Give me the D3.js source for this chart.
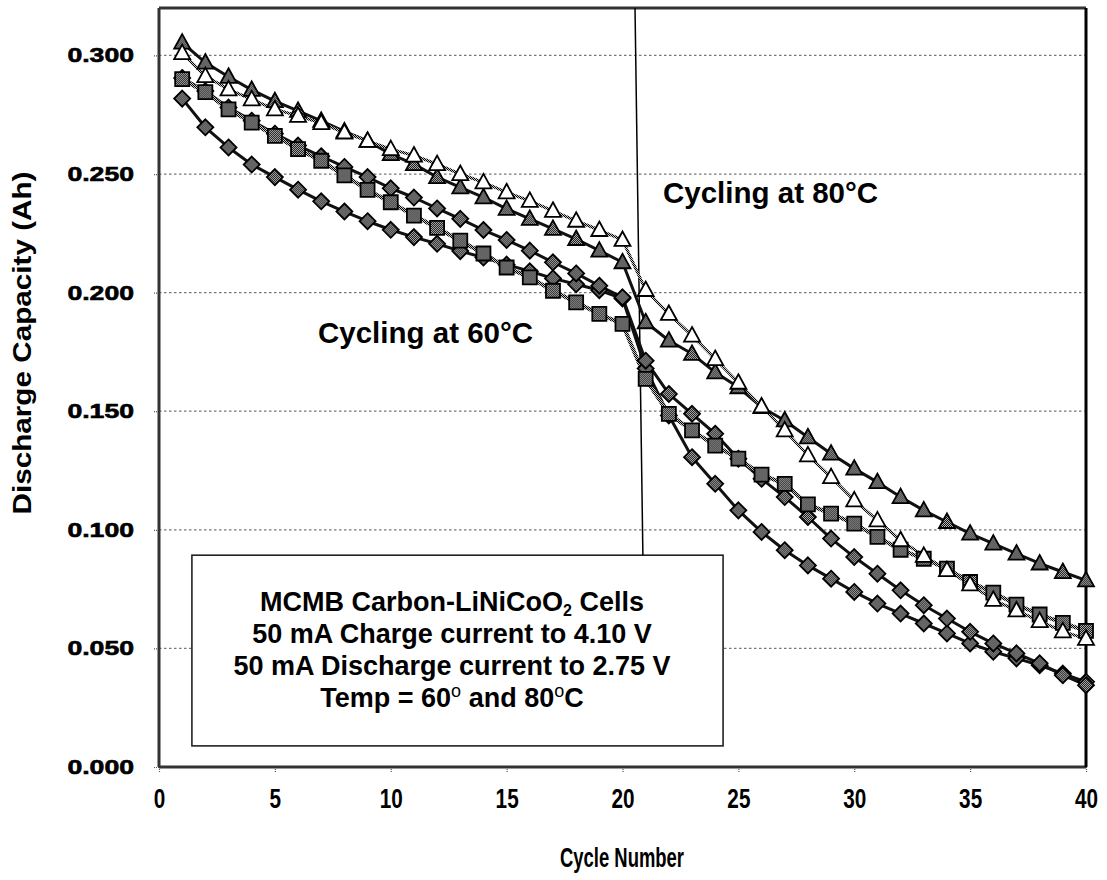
<!DOCTYPE html>
<html>
<head>
<meta charset="utf-8">
<script src="https://d3js.org/d3.v7.min.js"></script>
<style>
  body { margin: 0; background: #fff; }
  text { font-family: "Liberation Sans", Arial, sans-serif; font-weight: bold; fill: #000; }
</style>
</head>
<body>
<svg></svg>
<script>
// cycle numbers and discharge capacity (Ah)
const cycles = [1, 2, 3, 4, 5, 6, 7, 8, 9, 10, 11, 12, 13, 14, 15, 16, 17, 18, 19, 20,
    21, 22, 23, 24, 25, 26, 27, 28, 29, 30, 31, 32, 33, 34, 35, 36, 37, 38, 39, 40];

const openTriangle = [0.3010, 0.2913, 0.2857, 0.2815, 0.2773, 0.2745, 0.2715, 0.2675, 0.2640, 0.2605,
    0.2578, 0.2542, 0.2500, 0.2465, 0.2423, 0.2387, 0.2345, 0.2303, 0.2264, 0.2222,
    0.2011, 0.1910, 0.1819, 0.1720, 0.1620, 0.1520, 0.1419, 0.1314, 0.1222, 0.1124,
    0.1040, 0.0956, 0.0890, 0.0830, 0.0770, 0.0705, 0.0660, 0.0615, 0.0572, 0.0540];

const filledTriangle = [0.3054, 0.2970, 0.2910, 0.2855, 0.2807, 0.2766, 0.2724, 0.2680, 0.2640, 0.2584,
    0.2542, 0.2487, 0.2444, 0.2402, 0.2353, 0.2311, 0.2269, 0.2226, 0.2177, 0.2128,
    0.1875, 0.1798, 0.1742, 0.1664, 0.1601, 0.1517, 0.1461, 0.1390, 0.1321, 0.1258,
    0.1201, 0.1138, 0.1082, 0.1033, 0.0984, 0.0942, 0.0900, 0.0858, 0.0822, 0.0787];

const squares = [0.2900, 0.2845, 0.2773, 0.2717, 0.2661, 0.2605, 0.2556, 0.2494, 0.2433, 0.2381,
    0.2325, 0.2273, 0.2219, 0.2165, 0.2106, 0.2064, 0.2008, 0.1959, 0.1910, 0.1868,
    0.1636, 0.1489, 0.1419, 0.1355, 0.1300, 0.1233, 0.1194, 0.1107, 0.1068, 0.1026,
    0.0970, 0.0916, 0.0878, 0.0836, 0.0780, 0.0735, 0.0685, 0.0643, 0.0608, 0.0574];

const diamondUpper = [0.2905, 0.2850, 0.2780, 0.2725, 0.2670, 0.2620, 0.2575, 0.2530, 0.2487, 0.2440,
    0.2401, 0.2355, 0.2311, 0.2264, 0.2222, 0.2177, 0.2128, 0.2081, 0.2029, 0.1980,
    0.1713, 0.1573, 0.1489, 0.1405, 0.1300, 0.1215, 0.1138, 0.1054, 0.0963, 0.0885,
    0.0815, 0.0745, 0.0682, 0.0626, 0.0570, 0.0521, 0.0479, 0.0437, 0.0387, 0.0345];

const diamondLower = [0.2818, 0.2697, 0.2612, 0.2540, 0.2487, 0.2434, 0.2385, 0.2342, 0.2301, 0.2265,
    0.2234, 0.2206, 0.2175, 0.2148, 0.2118, 0.2090, 0.2060, 0.2035, 0.2010, 0.1975,
    0.1680, 0.1482, 0.1306, 0.1194, 0.1082, 0.0991, 0.0914, 0.0850, 0.0794, 0.0738,
    0.0689, 0.0647, 0.0605, 0.0563, 0.0521, 0.0486, 0.0458, 0.0429, 0.0394, 0.0359];

const yTicks = [0, 0.05, 0.10, 0.15, 0.20, 0.25, 0.30];
const xTicks = [0, 5, 10, 15, 20, 25, 30, 35, 40];
const boxLines = ['50 mA Charge current to 4.10 V', '50 mA Discharge current to 2.75 V'];

const width = 1107;
const height = 880;
const margin = {top: 8, right: 21, bottom: 113, left: 159};

const svg = d3.select('svg')
    .attr('width', width)
    .attr('height', height);

// checkered fill like the scanned markers
const defs = svg.append('defs');
const chk = defs.append('pattern')
    .attr('id', 'chk')
    .attr('width', 2).attr('height', 2)
    .attr('patternUnits', 'userSpaceOnUse');
chk.append('rect').attr('width', 2).attr('height', 2).attr('fill', '#c8c8c8');
chk.append('rect').attr('width', 1).attr('height', 1).attr('fill', '#000');
chk.append('rect').attr('x', 1).attr('y', 1).attr('width', 1).attr('height', 1).attr('fill', '#000');

const x = d3.scaleLinear().domain([0, 40]).range([margin.left, width - margin.right]);
const y = d3.scaleLinear().domain([0, 0.32]).range([height - margin.bottom, margin.top]);

// grid
svg.append('g')
    .selectAll('line')
    .data(yTicks.filter(d => d > 0))
    .enter()
    .append('line')
    .attr('x1', x(0)).attr('x2', x(40))
    .attr('y1', d => y(d)).attr('y2', d => y(d))
    .attr('stroke', '#777')
    .attr('stroke-width', 1.2)
    .attr('stroke-dasharray', '2.5,2.5');

// axes
const yAxis = d3.axisLeft(y).tickValues(yTicks).tickFormat(d3.format('.3f')).tickSize(6).tickPadding(19);
const gy = svg.append('g')
    .attr('transform', 'translate(' + x(0) + ',0)')
    .call(yAxis);
gy.select('.domain').remove();
gy.selectAll('.tick line').attr('stroke', '#555').attr('stroke-width', 1.2).attr('stroke-dasharray', '1,1');
gy.selectAll('.tick text')
    .style('font-size', '20px')
    .attr('font-family', null)
    .attr('stroke', '#000')
    .attr('stroke-width', 0.6)
    .each(function () {
        const w = this.getComputedTextLength();
        d3.select(this).attr('textLength', w * 1.33).attr('lengthAdjust', 'spacingAndGlyphs');
    });

const xAxis = d3.axisBottom(x).tickValues(xTicks).tickFormat(d3.format('d')).tickSize(5).tickPadding(16);
const gx = svg.append('g')
    .attr('transform', 'translate(0,' + y(0) + ')')
    .call(xAxis);
gx.select('.domain').remove();
gx.selectAll('.tick line').attr('stroke', '#555').attr('stroke-width', 1.2).attr('stroke-dasharray', '1,1');
gx.selectAll('.tick text')
    .style('font-size', '28px')
    .attr('font-family', null)
    .each(function () {
        const w = this.getComputedTextLength();
        d3.select(this).attr('textLength', w * 0.74).attr('lengthAdjust', 'spacingAndGlyphs');
    });

// frame
const frame = svg.append('g').attr('fill', 'none');
frame.append('line').attr('x1', x(0)).attr('x2', x(40)).attr('y1', y(0.32)).attr('y2', y(0.32))
    .attr('stroke', '#333').attr('stroke-width', 3);
frame.append('line').attr('x1', x(0)).attr('x2', x(40)).attr('y1', y(0)).attr('y2', y(0))
    .attr('stroke', '#333').attr('stroke-width', 3);
frame.append('line').attr('x1', x(0)).attr('x2', x(0)).attr('y1', y(0)).attr('y2', y(0.32))
    .attr('stroke', '#333').attr('stroke-width', 3);
frame.append('line').attr('x1', x(40)).attr('x2', x(40)).attr('y1', y(0)).attr('y2', y(0.32))
    .attr('stroke', '#000').attr('stroke-width', 3);

// annotation box
const boxLeft = 1.42, boxRight = 24.34, boxTop = 0.0893, boxBottom = 0.0089;
svg.append('rect')
    .attr('x', x(boxLeft)).attr('y', y(boxTop))
    .attr('width', x(boxRight) - x(boxLeft))
    .attr('height', y(boxBottom) - y(boxTop))
    .attr('fill', '#fff')
    .attr('stroke', '#222')
    .attr('stroke-width', 1.6);

// line separating 60 and 80 degree cycling
svg.append('line')
    .attr('x1', x(20.54)).attr('y1', y(0.32))
    .attr('x2', x(20.88)).attr('y2', y(boxTop))
    .attr('stroke', '#000')
    .attr('stroke-width', 1.5);

const series = [
    {values: diamondLower, shape: 'diamond', stroke: '#111', width: 3},
    {values: diamondUpper, shape: 'diamond', stroke: '#111', width: 3},
    {values: squares, shape: 'square', stroke: 'url(#chk)', width: 4},
    {values: filledTriangle, shape: 'triangle', stroke: '#111', width: 3},
    {values: openTriangle, shape: 'openTriangle', stroke: 'url(#chk)', width: 3}
];

const line = d3.line()
    .x(d => x(d[0]))
    .y(d => y(d[1]));

const shapes = {
    diamond: 'M0,-8L8,0L0,8L-8,0Z',
    square: 'M-7,-7H7V7H-7Z',
    triangle: 'M0,-8.5L8,6L-8,6Z',
    openTriangle: 'M0,-8.5L8,6L-8,6Z'
};

series.forEach(s => {
    const pts = cycles.map((c, i) => [c, s.values[i]]);
    svg.append('path')
        .datum(pts)
        .attr('d', line)
        .attr('fill', 'none')
        .attr('stroke', s.stroke)
        .attr('stroke-width', s.width)
        .attr('stroke-linejoin', 'round');
});

series.forEach(s => {
    const pts = cycles.map((c, i) => [c, s.values[i]]);
    svg.append('g')
        .selectAll('path')
        .data(pts)
        .enter()
        .append('path')
        .attr('transform', d => 'translate(' + x(d[0]) + ',' + y(d[1]) + ')')
        .attr('d', shapes[s.shape])
        .attr('fill', s.shape === 'openTriangle' ? '#fff' : 'url(#chk)')
        .attr('stroke', '#000')
        .attr('stroke-width', 1.8)
        .attr('stroke-linejoin', 'miter');
});

// labels
svg.append('text')
    .attr('x', 663).attr('y', 203)
    .style('font-size', '29.5px')
    .text('Cycling at 80°C');

svg.append('text')
    .attr('x', 318).attr('y', 343)
    .style('font-size', '29.5px')
    .text('Cycling at 60°C');

const boxText = svg.append('g')
    .attr('text-anchor', 'middle')
    .style('font-size', '27px');
const cx = 452;
const t1 = boxText.append('text').attr('x', cx).attr('y', 611);
t1.append('tspan').text('MCMB Carbon-LiNiCoO');
t1.append('tspan').attr('dy', 5).style('font-size', '16px').text('2');
t1.append('tspan').attr('dy', -5).text(' Cells');
boxText.selectAll('text.plain')
    .data(boxLines)
    .enter()
    .append('text')
    .attr('class', 'plain')
    .attr('x', cx)
    .attr('y', (d, i) => 643 + i * 32)
    .text(d => d);
const t4 = boxText.append('text').attr('x', cx).attr('y', 707);
t4.append('tspan').text('Temp = 60');
t4.append('tspan').attr('dy', -10).style('font-size', '18px').style('font-weight', 'normal').text('o');
t4.append('tspan').attr('dy', 10).text(' and 80');
t4.append('tspan').attr('dy', -10).style('font-size', '18px').style('font-weight', 'normal').text('o');
t4.append('tspan').attr('dy', 10).text('C');

// axis titles
svg.append('text')
    .attr('transform', 'translate(31,' + 343 + ') rotate(-90)')
    .attr('text-anchor', 'middle')
    .style('font-size', '25px')
    .attr('textLength', 343)
    .attr('lengthAdjust', 'spacingAndGlyphs')
    .text('Discharge Capacity (Ah)');

svg.append('text')
    .attr('x', 622).attr('y', 867)
    .attr('text-anchor', 'middle')
    .style('font-size', '27px')
    .attr('textLength', 124)
    .attr('lengthAdjust', 'spacingAndGlyphs')
    .text('Cycle Number');
</script>
</body>
</html>
